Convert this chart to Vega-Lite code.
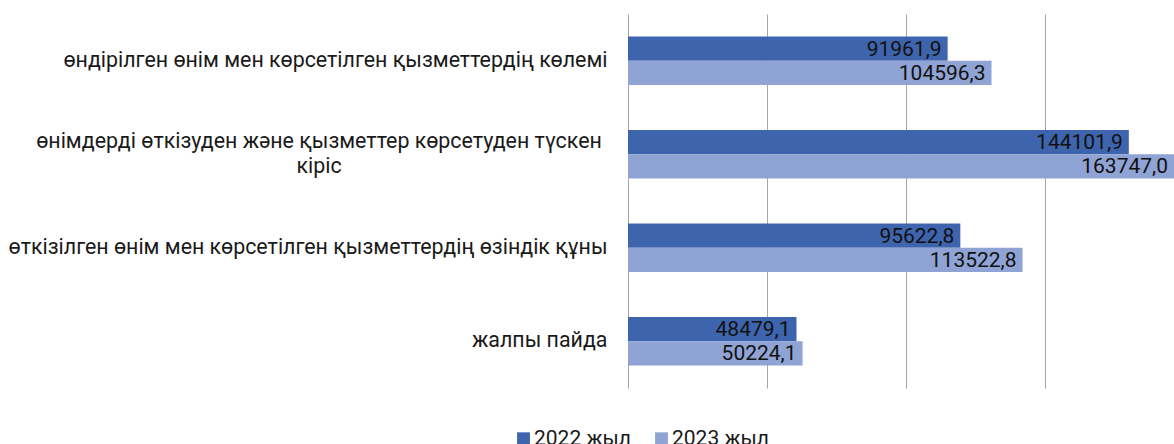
{
  "$schema": "https://vega.github.io/schema/vega-lite/v6.json",
  "autosize": "none",
  "width": 546,
  "height": 374,
  "padding": {"left": 628, "top": 14, "right": 0, "bottom": 56},
  "background": "white",
  "config": {
    "view": {"stroke": null},
    "font": "Roboto"
  },
  "data": {
    "values": [
      {"cat": "өндірілген өнім мен көрсетілген қызметтердің көлемі", "series": "2022 жыл", "value": 91961.9, "label": "91961,9"},
      {"cat": "өндірілген өнім мен көрсетілген қызметтердің көлемі", "series": "2023 жыл", "value": 104596.3, "label": "104596,3"},
      {"cat": "өнімдерді  өткізуден және қызметтер көрсетуден түскен|кіріс", "series": "2022 жыл", "value": 144101.9, "label": "144101,9"},
      {"cat": "өнімдерді  өткізуден және қызметтер көрсетуден түскен|кіріс", "series": "2023 жыл", "value": 163747.0, "label": "163747,0"},
      {"cat": "өткізілген өнім мен көрсетілген қызметтердің өзіндік құны", "series": "2022 жыл", "value": 95622.8, "label": "95622,8"},
      {"cat": "өткізілген өнім мен көрсетілген қызметтердің өзіндік құны", "series": "2023 жыл", "value": 113522.8, "label": "113522,8"},
      {"cat": "жалпы пайда", "series": "2022 жыл", "value": 48479.1, "label": "48479,1"},
      {"cat": "жалпы пайда", "series": "2023 жыл", "value": 50224.1, "label": "50224,1"}
    ]
  },
  "encoding": {
    "y": {
      "field": "cat",
      "type": "nominal",
      "sort": null,
      "title": null,
      "scale": {"paddingInner": 0.48, "paddingOuter": 0.24},
      "axis": {
        "domain": false,
        "ticks": false,
        "labelFont": "Roboto",
        "labelFontSize": 21.4,
        "labelColor": "#1a1a1a",
        "labelLimit": 800,
        "labelPadding": {"condition": {"test": "indexof(datum.value, '|') >= 0", "value": 309.5}, "value": 21},
        "labelAlign": {"condition": {"test": "indexof(datum.value, '|') >= 0", "value": "center"}, "value": "right"},
        "labelOffset": {"condition": {"test": "indexof(datum.value, '|') >= 0", "value": -12}, "value": 0},
        "labelLineHeight": 25,
        "labelExpr": "split(datum.value, '|')"
      }
    },
    "yOffset": {"field": "series", "type": "nominal", "sort": ["2022 жыл", "2023 жыл"]},
    "x": {
      "field": "value",
      "type": "quantitative",
      "title": null,
      "scale": {"domain": [0, 157100], "nice": false, "zero": true, "clamp": true},
      "axis": {
        "values": [0, 40000, 80000, 120000, 160000],
        "labels": false,
        "ticks": false,
        "domain": false,
        "grid": true,
        "gridColor": "#a6a6a6",
        "gridWidth": 1
      }
    }
  },
  "layer": [
    {
      "mark": {"type": "bar", "clip": true},
      "encoding": {
        "color": {
          "field": "series",
          "type": "nominal",
          "sort": ["2022 жыл", "2023 жыл"],
          "scale": {"domain": ["2022 жыл", "2023 жыл"], "range": ["#3e64ad", "#8fa4d4"]},
          "legend": {
            "title": null,
            "orient": "none",
            "legendX": -115,
            "legendY": 414,
            "direction": "horizontal",
            "padding": 0,
            "symbolType": "square",
            "symbolSize": 165,
            "symbolStrokeWidth": 0,
            "labelOffset": 0,
            "labelFont": "Roboto",
            "labelFontSize": 21,
            "labelColor": "#1a1a1a",
            "columnPadding": 20
          }
        }
      }
    },
    {
      "mark": {"type": "text", "align": "right", "baseline": "middle", "dx": -6, "dy": 1, "fontSize": 21, "font": "Roboto", "color": "#111111", "clip": true},
      "encoding": {
        "text": {"field": "label", "type": "nominal"}
      }
    }
  ]
}
